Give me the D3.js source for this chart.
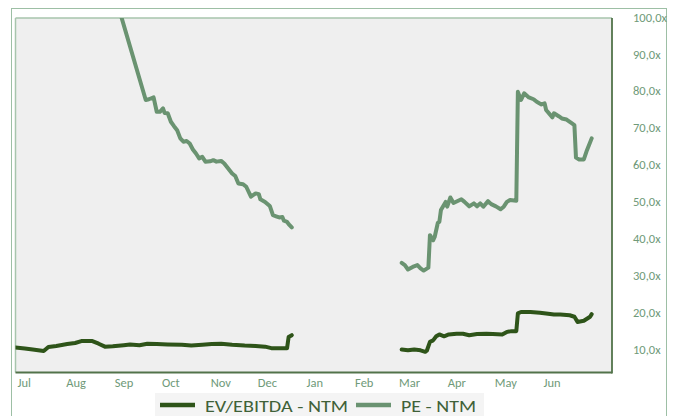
<!DOCTYPE html>
<html><head><meta charset="utf-8">
<script src="https://cdn.jsdelivr.net/npm/d3@7/dist/d3.min.js"></script>
<style>
html,body{margin:0;padding:0;background:#fff;}
svg{display:block;font-family:Carlito,Calibri,Lato,"Open Sans",sans-serif;}
</style></head>
<body><svg id="c" width="678" height="416"></svg>
<script>
// ---- data ----
const monthLabels = ["Jul","Aug","Sep","Oct","Nov","Dec","Jan","Feb","Mar","Apr","May","Jun"];
const yTicks = [10,20,30,40,50,60,70,80,90,100];
const seriesNames = ["EV/EBITDA - NTM","PE - NTM"];

const evDates = ["2022-06-30","2022-07-06","2022-07-11","2022-07-18","2022-07-21","2022-07-26","2022-08-02","2022-08-07","2022-08-11","2022-08-18","2022-08-22","2022-08-26","2022-08-31","2022-09-07","2022-09-11","2022-09-17","2022-09-22","2022-09-28","2022-10-05","2022-10-14","2022-10-20","2022-10-27","2022-11-02","2022-11-08","2022-11-15","2022-11-23","2022-11-30","2022-12-06","2022-12-10","2022-12-14","2022-12-20","2022-12-21","2022-12-23",
"2023-01-20",
"2023-03-03","2023-03-07","2023-03-11","2023-03-15","2023-03-18","2023-03-19","2023-03-21","2023-03-23","2023-03-25","2023-03-27","2023-03-30","2023-04-02","2023-04-07","2023-04-11","2023-04-15","2023-04-20","2023-04-26","2023-04-30","2023-05-06","2023-05-09","2023-05-12","2023-05-15","2023-05-16","2023-05-18","2023-05-24","2023-05-30","2023-06-03","2023-06-08","2023-06-12","2023-06-18","2023-06-21","2023-06-23","2023-06-27","2023-07-01","2023-07-02"];
const evValues = [10.8,10.5,10.2,9.8,10.9,11.2,11.7,12.0,12.5,12.5,11.8,11.0,11.1,11.4,11.6,11.4,11.8,11.7,11.6,11.5,11.3,11.5,11.7,11.8,11.5,11.3,11.2,11.0,10.6,10.6,10.6,13.6,14.1,
null,
10.2,10.0,10.2,10.0,9.6,9.9,12.3,12.7,13.8,14.3,13.8,14.3,14.5,14.5,14.1,14.4,14.5,14.4,14.3,15.0,15.2,15.2,20.0,20.4,20.4,20.2,20.0,19.7,19.7,19.5,19.1,17.7,18.0,19.1,19.8];

const peDates = ["2022-09-02","2022-09-21","2022-09-23","2022-09-26","2022-09-28","2022-09-30","2022-10-02","2022-10-03","2022-10-05","2022-10-07","2022-10-09","2022-10-11","2022-10-13","2022-10-15","2022-10-17","2022-10-19","2022-10-21","2022-10-23","2022-10-25","2022-10-27","2022-10-29","2022-11-01","2022-11-03","2022-11-05","2022-11-08","2022-11-10","2022-11-12","2022-11-15","2022-11-17","2022-11-19","2022-11-22","2022-11-24","2022-11-27","2022-11-30","2022-12-02","2022-12-03","2022-12-06","2022-12-09","2022-12-11","2022-12-13","2022-12-15","2022-12-17","2022-12-18","2022-12-20","2022-12-21","2022-12-23",
"2023-01-20",
"2023-03-03","2023-03-05","2023-03-07","2023-03-10","2023-03-13","2023-03-15","2023-03-17","2023-03-20","2023-03-21","2023-03-23","2023-03-24","2023-03-26","2023-03-27","2023-03-28","2023-03-31","2023-04-01","2023-04-03","2023-04-05","2023-04-08","2023-04-10","2023-04-12","2023-04-15","2023-04-18","2023-04-20","2023-04-22","2023-04-24","2023-04-27","2023-04-29","2023-05-02","2023-05-05","2023-05-07","2023-05-09","2023-05-11","2023-05-15","2023-05-16","2023-05-18","2023-05-20","2023-05-23","2023-05-26","2023-05-28","2023-05-31","2023-06-02","2023-06-03","2023-06-07","2023-06-08","2023-06-11","2023-06-13","2023-06-16","2023-06-19","2023-06-21","2023-06-22","2023-06-24","2023-06-27","2023-06-29","2023-07-02"];
const peValues = [105.3,77.8,78.0,78.5,74.6,74.6,75.5,74.3,74.2,71.9,70.7,69.6,67.4,66.5,66.7,66.0,64.4,63.3,62.0,62.4,61.1,61.2,61.5,61.1,61.3,60.6,59.5,57.9,57.2,55.2,55.0,54.3,51.6,52.5,52.3,50.9,50.2,49.1,46.6,46.3,46.0,46.1,45.1,44.8,44.2,43.3,
null,
33.7,33.1,31.9,32.6,33.1,32.2,31.6,32.4,41.2,39.8,40.7,44.5,44.8,48.0,50.2,48.9,51.4,49.9,50.5,50.9,50.2,49.0,49.8,49.0,49.8,48.9,50.4,49.6,49.0,48.2,48.9,50.2,50.7,50.5,80.0,77.8,79.6,78.5,78.0,77.3,76.6,76.9,75.1,73.1,74.2,73.4,72.8,72.5,71.6,71.0,62.2,61.7,61.7,64.2,67.4];

// ---- layout ----
const P = {left:15.5, right:612, top:18, bottom:372.5};
const parse = d3.timeParse("%Y-%m-%d");
const svg = d3.select("#c");

const x = d3.scaleTime().domain([parse("2022-07-01"), parse("2023-06-01")]).range([17, 543]);
const y = d3.scaleLinear().domain([4, 100]).range([P.bottom, P.top]);

// outer border
svg.append("rect").attr("x",11.5).attr("y",8.5).attr("width",655).attr("height",420)
  .attr("fill","#fff").attr("stroke","#9dbfa5").attr("stroke-width",1);

// plot area
svg.append("rect").attr("x",P.left).attr("y",P.top).attr("width",P.right-P.left).attr("height",P.bottom-P.top)
  .attr("fill","#efefef");
svg.append("line").attr("x1",P.left).attr("x2",P.left).attr("y1",P.top).attr("y2",P.bottom)
  .attr("stroke","#a7c5ad").attr("stroke-width",1.5);
svg.append("line").attr("x1",P.left).attr("x2",P.right).attr("y1",P.top).attr("y2",P.top)
  .attr("stroke","#a7c5ad").attr("stroke-width",1.5);
svg.append("line").attr("x1",P.right).attr("x2",P.right).attr("y1",P.top).attr("y2",P.bottom+1)
  .attr("stroke","#52734a").attr("stroke-width",1.8);
svg.append("line").attr("x1",P.left).attr("x2",P.right).attr("y1",P.bottom).attr("y2",P.bottom)
  .attr("stroke","#52734a").attr("stroke-width",1.8);

svg.append("clipPath").attr("id","clip").append("rect")
  .attr("x",P.left).attr("y",P.top).attr("width",P.right-P.left).attr("height",P.bottom-P.top);

const fmt = v => d3.format(".1f")(v).replace(".", ",") + "x";
const axisColor = "#6f9a79";

// y axis (right)
const gy = svg.append("g").attr("transform",`translate(633,0)`)
  .call(d3.axisRight(y).tickValues(yTicks).tickFormat(fmt).tickSize(0).tickPadding(0));
gy.select(".domain").remove();
gy.selectAll("text").attr("fill",axisColor).attr("font-size",12.5)
  .attr("font-family","Carlito,Calibri,Lato,sans-serif").attr("dy","0.25em");

// x axis
const months = monthLabels.map((m,i)=> d3.timeMonth.offset(parse("2022-07-01"), i));
const gx = svg.append("g").attr("transform",`translate(0,${P.bottom})`)
  .call(d3.axisBottom(x).tickValues(months).tickFormat((d,i)=>monthLabels[i]).tickSize(0).tickPadding(13));
gx.select(".domain").remove();
gx.selectAll("text").attr("fill",axisColor).attr("font-size",12.5).attr("text-anchor","start")
  .attr("font-family","Carlito,Calibri,Lato,sans-serif").attr("dy","0.1em");

// lines
const mk = (dates, vals) => dates.map((d,i)=>({d:parse(d), v:vals[i]}));
const line = d3.line().defined(p=>p.v!=null).x(p=>x(p.d)).y(p=>y(p.v));
const colors = ["#2e5419","#6a9371"];
const data = [mk(evDates, evValues), mk(peDates, peValues)];
const gl = svg.append("g").attr("clip-path","url(#clip)");
[1,0].forEach(i=>{
  gl.append("path").datum(data[i]).attr("d",line).attr("fill","none")
    .attr("stroke",colors[i]).attr("stroke-width",4)
    .attr("stroke-linejoin","round").attr("stroke-linecap","round");
});

// legend
const lg = svg.append("g");
lg.append("rect").attr("x",155).attr("y",393).attr("width",329).attr("height",30).attr("fill","#f4f4f4");
const legItems = [{x:160, tx:205, w:143},{x:356, tx:401, w:75}];
legItems.forEach((it,i)=>{
  lg.append("line").attr("x1",it.x).attr("x2",it.x+35).attr("y1",405).attr("y2",405)
    .attr("stroke",colors[i]).attr("stroke-width",4.5);
  lg.append("text").attr("x",it.tx).attr("y",411.5).text(seriesNames[i])
    .attr("fill","#3f6138").attr("font-size",17)
    .attr("textLength",it.w).attr("lengthAdjust","spacingAndGlyphs");
});
</script></body></html>
